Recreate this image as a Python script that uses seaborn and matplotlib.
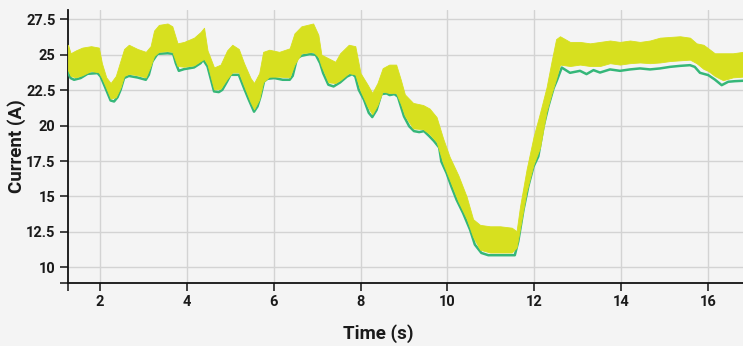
import numpy as np
import pandas as pd
import matplotlib
matplotlib.use("Agg")
import matplotlib.pyplot as plt
import seaborn as sns

# ---- data ----
time_line = [1.26, 1.33, 1.41, 1.56, 1.72, 1.95, 2.02, 2.10, 2.18, 2.25, 2.33, 2.41, 2.48, 2.56,
             2.67, 2.87, 3.06, 3.13, 3.21, 3.33, 3.56, 3.69, 3.75, 3.82, 3.94, 4.17, 4.32, 4.38,
             4.48, 4.63, 4.74, 4.82, 4.93, 5.01, 5.20, 5.32, 5.43, 5.55, 5.63, 5.70, 5.78, 5.86,
             6.02, 6.21, 6.37, 6.44, 6.54, 6.64, 6.83, 6.97, 7.07, 7.14, 7.26, 7.38, 7.53, 7.69,
             7.81, 7.88, 7.96, 8.08, 8.19, 8.27, 8.37, 8.48, 8.60, 8.67, 8.78, 8.86, 8.93, 9.00,
             9.12, 9.23, 9.35, 9.46, 9.58, 9.69, 9.81, 9.86, 9.98, 10.09, 10.21, 10.36, 10.52,
             10.63, 10.78, 10.94, 11.20, 11.55, 11.63, 11.75, 11.86, 11.98, 12.09, 12.21, 12.32,
             12.44, 12.52, 12.63, 12.82, 13.05, 13.20, 13.36, 13.51, 13.74, 13.97, 14.20, 14.43,
             14.66, 14.89, 15.12, 15.35, 15.58, 15.69, 15.81, 16.00, 16.15, 16.31, 16.46, 16.61,
             16.80]
current_line = [23.80, 23.35, 23.23, 23.35, 23.65, 23.70, 23.46, 22.88, 22.29, 21.77, 21.70, 22.00,
                22.52, 23.35, 23.50, 23.39, 23.23, 23.58, 24.52, 25.06, 25.10, 25.06, 24.40, 23.86,
                23.98, 24.10, 24.40, 24.64, 24.17, 22.41, 22.36, 22.52, 23.11, 23.58, 23.58, 22.64,
                21.82, 20.98, 21.35, 22.05, 23.11, 23.30, 23.35, 23.23, 23.23, 23.51, 24.75, 24.92,
                25.04, 24.99, 24.40, 23.70, 22.88, 22.76, 23.04, 23.46, 23.63, 23.46, 22.52, 21.82,
                20.90, 20.60, 21.10, 22.22, 22.27, 22.15, 22.22, 22.04, 21.34, 20.65, 19.95, 19.61,
                19.54, 19.61, 19.26, 18.91, 18.45, 17.46, 16.65, 15.71, 14.77, 13.83, 12.66, 11.61,
                11.02, 10.86, 10.86, 10.86, 11.84, 14.07, 15.71, 17.11, 17.82, 19.92, 21.33, 22.62,
                23.20, 24.09, 23.72, 23.86, 23.63, 23.91, 23.74, 23.96, 23.86, 23.96, 24.03, 23.96,
                24.03, 24.14, 24.21, 24.26, 24.14, 23.72, 23.56, 23.25, 22.85, 23.09, 23.13, 23.16]

time_band = [1.27, 1.33, 1.45, 1.60, 1.80, 1.98, 2.05, 2.15, 2.25, 2.37, 2.48, 2.56, 2.67, 2.87,
             3.06, 3.17, 3.25, 3.36, 3.56, 3.67, 3.79, 3.94, 4.17, 4.32, 4.40, 4.48, 4.63, 4.78,
             4.93, 5.05, 5.20, 5.32, 5.47, 5.55, 5.67, 5.76, 5.90, 6.13, 6.37, 6.48, 6.64, 6.91,
             7.03, 7.10, 7.26, 7.42, 7.53, 7.73, 7.88, 8.00, 8.16, 8.27, 8.39, 8.51, 8.66, 8.82,
             8.93, 9.02, 9.21, 9.44, 9.59, 9.75, 9.90, 10.05, 10.25, 10.44, 10.59, 10.75, 10.98,
             11.21, 11.48, 11.59, 11.67, 11.82, 11.98, 12.13, 12.28, 12.40, 12.50, 12.59, 12.82,
             13.05, 13.28, 13.51, 13.74, 13.97, 14.20, 14.43, 14.66, 14.89, 15.12, 15.35, 15.58,
             15.73, 15.89, 16.00, 16.15, 16.34, 16.57, 16.80]
band_high = [25.7, 25.1, 25.3, 25.5, 25.6, 25.5, 24.4, 23.4, 23.0, 23.5, 24.6, 25.4, 25.7, 25.4,
             25.2, 25.6, 26.7, 27.1, 27.2, 27.0, 25.8, 25.9, 26.2, 26.6, 26.9, 25.3, 24.1, 24.3,
             25.3, 25.7, 25.4, 24.4, 23.35, 23.0, 23.7, 25.2, 25.35, 25.2, 25.45, 26.5, 27.0, 27.2,
             26.4, 25.0, 24.75, 24.5, 25.1, 25.7, 25.6, 23.7, 22.9, 22.3, 23.0, 24.05, 24.3, 24.3,
             23.2, 22.2, 21.6, 21.45, 21.2, 20.6, 19.1, 17.8, 16.5, 15.0, 13.4, 13.0, 12.9,
             12.9, 12.8, 12.55, 14.3, 16.9, 19.2, 20.9, 22.7, 24.6, 26.1, 26.3, 25.9,
             25.9, 25.8, 25.9, 26.0, 25.9, 26.0, 25.9, 26.0, 26.2, 26.25, 26.3, 26.2,
             25.8, 25.7, 25.45, 25.1, 25.1, 25.1, 25.2]
band_low = [23.9, 23.5, 23.4, 23.55, 23.85, 23.75, 23.35, 22.65, 21.9, 22.0, 22.7, 23.5, 23.65, 23.55,
            23.4, 24.2, 24.9, 25.2, 25.25, 25.2, 24.2, 24.15, 24.25, 24.55, 24.7, 24.3, 22.55, 22.6,
            23.3, 23.75, 23.75, 22.8, 21.65, 21.15, 21.85, 23.05, 23.45, 23.45, 23.4, 24.3, 25.1, 25.2,
            24.85, 24.2, 23.05, 23.0, 23.2, 23.7, 23.6, 22.45, 21.35, 20.8, 21.45, 22.4, 22.3, 22.3,
            21.5, 20.7, 19.8, 19.75, 19.4, 18.85, 17.35, 16.2, 14.65, 13.45, 12.15, 11.25, 11.05,
            11.05, 11.05, 11.4, 12.75, 15.35, 17.25, 18.45, 21.0, 22.3, 23.3, 24.3, 24.2,
            24.3, 24.2, 24.2, 24.4, 24.3, 24.4, 24.45, 24.4, 24.45, 24.55, 24.6, 24.65,
            24.4, 24.0, 23.85, 23.5, 23.2, 23.4, 23.45]

x_ticks = [2, 4, 6, 8, 10, 12, 14, 16]
y_ticks = [10, 12.5, 15, 17.5, 20, 22.5, 25, 27.5]
y_tick_labels = ["10", "12.5", "15", "17.5", "20", "22.5", "25", "27.5"]
x_label = "Time (s)"
y_label = "Current (A)"

# ---- styling ----
BG = "#f4f4f4"
GREEN = "#35b779"
YELLOW = "#d7e01f"

sns.set_theme(style="whitegrid", rc={
    "axes.facecolor": BG, "figure.facecolor": BG,
    "grid.color": "#d3d3d3", "grid.linewidth": 1.0,
    "axes.edgecolor": "#111111",
})
plt.rcParams["font.family"] = ["Roboto", "DejaVu Sans"]

fig = plt.figure(figsize=(7.43, 3.46), dpi=100)
ax = fig.add_axes([68 / 743, 1 - 283 / 346, 1 - 68 / 743, (283 - 10) / 346])

df_line = pd.DataFrame({"time": time_line, "current": current_line})
sns.lineplot(data=df_line, x="time", y="current", ax=ax, color=GREEN,
             linewidth=1.8, estimator=None, sort=False, zorder=3)

# noisy measured signal: envelope band
df_band = pd.DataFrame({"time": time_band, "high": band_high, "low": band_low})
ax.fill_between(df_band["time"], df_band["low"], df_band["high"],
                color=YELLOW, linewidth=0.6, edgecolor=YELLOW, zorder=4)

x0, x1 = 1.27, 16.8
y0, y1 = 8.9, 28.15
ax.set_xlim(x0, x1)
ax.set_ylim(y0, y1)
ax.set_xticks(x_ticks)
ax.set_yticks(y_ticks)
ax.set_yticklabels(y_tick_labels)
ax.set_xticks([x0], minor=True)
ax.set_yticks([y0], minor=True)

for s in ["top", "right"]:
    ax.spines[s].set_visible(False)
for s in ["left", "bottom"]:
    ax.spines[s].set_color("#111111")
    ax.spines[s].set_linewidth(1.3)

ax.tick_params(axis="both", which="both", direction="out", length=6, width=1.1,
               color="#111111", labelsize=10.5, labelcolor="#1a1a1a", pad=3,
               bottom=True, left=True)
ax.tick_params(axis="both", which="minor", labelbottom=False, labelleft=False)
for lab in ax.get_xticklabels() + ax.get_yticklabels():
    lab.set_fontweight("semibold")
ax.grid(True, which="major", zorder=0)
ax.grid(False, which="minor")

ax.set_xlabel(x_label, fontsize=13.5, fontweight="bold", color="#1a1a1a")
ax.set_ylabel(y_label, fontsize=13.5, fontweight="bold", color="#1a1a1a")
ax.xaxis.set_label_coords(0.459, -0.15)
ax.yaxis.set_label_coords(-0.062, 0.5)

fig.savefig("out.png", dpi=100, facecolor=BG)
